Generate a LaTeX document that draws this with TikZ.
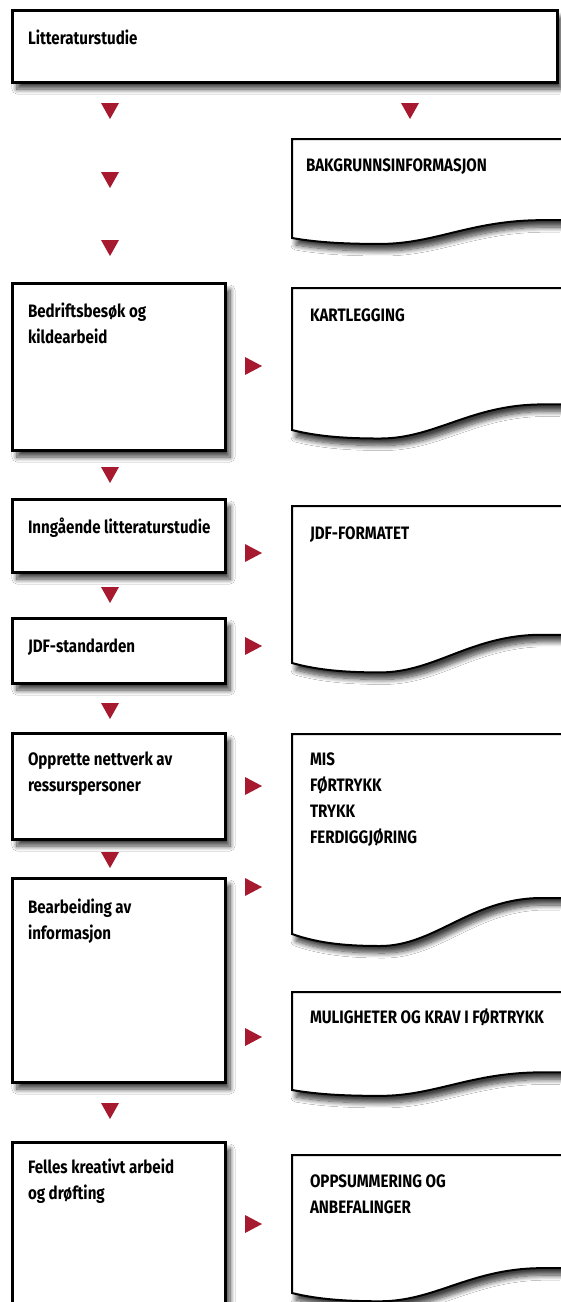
\documentclass[tikz,border=0pt]{standalone}
\usepackage{fontspec}
\setmainfont{Fira Sans}[FakeStretch=0.84]
\usetikzlibrary{shadows.blur}

\definecolor{arrowred}{RGB}{166,25,46}

% multi-line label whose baseline is the first line
\newcommand\txtlines[1]{\begin{tabular}[t]{@{}l@{}}#1\end{tabular}}

% wavy "document" sheet: name, top y, bottom-left y
\newcommand\docsheet[3]{%
  \pgfmathsetmacro\dh{#3-#2}%
  \pgfmathsetmacro\dlow{#3+0.06*\dh}%
  \pgfmathsetmacro\dmid{#3+0.05*\dh}%
  \pgfmathsetmacro\dhigh{#3-0.18*\dh}%
  \pgfmathsetmacro\dtop{#3-0.175*\dh}%
  \coordinate (#1) at (292,#2);
  \draw[docline] (578,#2) -- (#1) -- (292,#3)
    .. controls (320,\dmid) and (350,\dlow) .. (380,\dlow)
    .. controls (435,\dlow) and (470,\dtop) .. (540,\dhigh)
    -- (578,\dhigh) -- cycle;
}

\begin{document}
\begin{tikzpicture}[x=1pt,y=-1pt,
  every node/.style={inner sep=0pt, outer sep=0pt},
  label/.style={anchor=base west, font=\fontsize{18}{26}\selectfont\bfseries},
  stepbox/.style={draw=black, line width=3pt, fill=white, anchor=north west,
    blur shadow={shadow xshift=5pt, shadow yshift=-7pt, shadow blur radius=5pt,
      shadow blur steps=10, shadow opacity=75}},
  docline/.style={draw=black, line width=2pt, fill=white,
    blur shadow={shadow xshift=4pt, shadow yshift=-7pt, shadow blur radius=5pt,
      shadow blur steps=10, shadow opacity=75}},
]
\useasboundingbox (0,0) rectangle (560,1302);
\fill[white] (0,0) rectangle (560,1302);

% ---- left column: process steps ----
\node[stepbox, minimum width=545pt, minimum height=72pt] (lit) at (12,10) {};
\node[label] (litT) at (28,44) {Litteraturstudie};

\node[stepbox, minimum width=213pt, minimum height=167pt] (bed) at (12,283) {};
\node[label] (bedT) at (28,317) {\txtlines{Bedriftsbesøk og\\kildearbeid}};

\node[stepbox, minimum width=213pt, minimum height=73pt] (inn) at (12,499) {};
\node[label] (innT) at (28,533) {Inngående litteraturstudie};

\node[stepbox, minimum width=213pt, minimum height=65pt] (jdfs) at (12,618) {};
\node[label] (jdfsT) at (28,652) {JDF-standarden};

\node[stepbox, minimum width=213pt, minimum height=106pt] (opp) at (12,733) {};
\node[label] (oppT) at (28,765) {\txtlines{Opprette nettverk av\\ressurspersoner}};

\node[stepbox, minimum width=213pt, minimum height=204pt] (bea) at (12,878) {};
\node[label] (beaT) at (28,913) {\txtlines{Bearbeiding av\\informasjon}};

\node[stepbox, minimum width=213pt, minimum height=220pt] (fel) at (12,1142) {};
\node[label] (felT) at (28,1173) {\txtlines{Felles kreativt arbeid\\og drøfting}};

% ---- right column: resulting documents ----
\docsheet{bak}{139}{238}
\node[label] (bakT) at (306,171) {BAKGRUNNSINFORMASJON};

\docsheet{kart}{288}{430}
\node[label] (kartT) at (310,321) {KARTLEGGING};

\docsheet{jdff}{506}{663}
\node[label] (jdffT) at (310,539) {JDF-FORMATET};

\docsheet{mis}{734}{934}
\node[label] (misT) at (310,765) {\txtlines{MIS\\FØRTRYKK\\TRYKK\\FERDIGGJØRING}};

\docsheet{mul}{992}{1090}
\node[label] (mulT) at (310,1023) {MULIGHETER OG KRAV I FØRTRYKK};

\docsheet{opps}{1155}{1293}
\node[label] (oppsT) at (310,1187) {\txtlines{OPPSUMMERING OG\\ANBEFALINGER}};

% ---- red flow markers ----
\foreach \cx/\ty in {110/103, 410/103, 110/172, 110/240, 110/467,
                     110/587, 110/703, 110/852, 110/1103}
  \fill[arrowred] (\cx-9,\ty) -- (\cx+9,\ty) -- (\cx,\ty+16) -- cycle;
\foreach \cy in {366, 553, 646, 786, 887, 1037, 1224}
  \fill[arrowred] (245,\cy-9) -- (245,\cy+9) -- (262,\cy) -- cycle;
\end{tikzpicture}
\end{document}
